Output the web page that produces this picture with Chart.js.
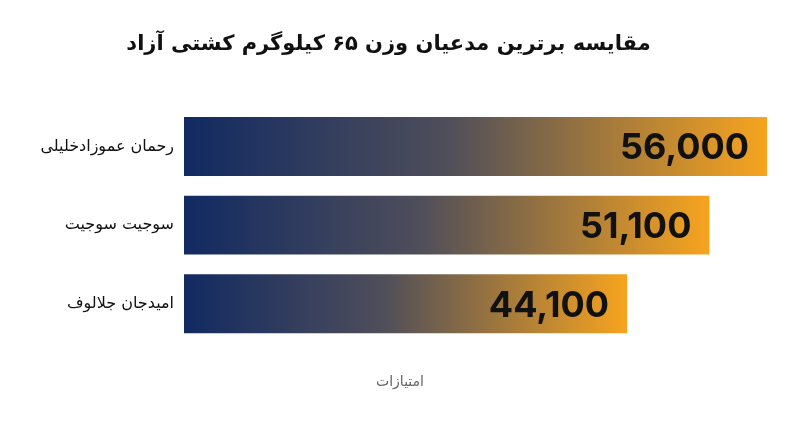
<!DOCTYPE html>
<html><head><meta charset="utf-8">
<script src="https://cdn.jsdelivr.net/npm/chart.js@4/dist/chart.umd.min.js"></script>
<style>html,body{margin:0;padding:0;background:#fff}#w{width:800px;height:447px}</style>
</head><body><div id="w"><canvas id="c"></canvas></div>
<script>
const categories = ["رحمان عموزادخلیلی", "سوجیت سوجیت", "امیدجان جلالوف"];
const values = [56000, 51100, 44100];
const valueLabels = ["56,000", "51,100", "44,100"];
const xTitle = 'امتیازات';
const FA = "'DejaVu Sans', sans-serif";

const valuePlugin = {
  id: 'vals',
  afterDatasetsDraw(chart) {
    const ctx = chart.ctx;
    const meta = chart.getDatasetMeta(0);
    ctx.save();
    ctx.font = "bold 36px Inter, 'Liberation Sans', sans-serif";
    ctx.fillStyle = "#111";
    ctx.textAlign = "right";
    ctx.textBaseline = "middle";
    meta.data.forEach((bar, i) => {
      ctx.fillText(valueLabels[i], bar.x - 18, bar.y + 2);
    });
    ctx.font = "14px " + FA;
    ctx.fillStyle = "#666";
    ctx.textAlign = "center";
    ctx.fillText(xTitle, chart.width / 2, chart.chartArea.bottom + 39);
    ctx.restore();
  }
};

new Chart(document.getElementById('c'), {
  type: 'bar',
  data: {
    labels: categories,
    datasets: [{
      data: values,
      categoryPercentage: 0.75,
      barPercentage: 1,
      backgroundColor(context) {
        const chart = context.chart;
        const area = chart.chartArea;
        if (!area) return '#f5a21f';
        const end = chart.scales.x.getPixelForValue(context.raw);
        const g = chart.ctx.createLinearGradient(area.left, 0, end, 0);
        g.addColorStop(0, '#112a62');
        g.addColorStop(0.45, '#4f4e5a');
        g.addColorStop(1, '#f7a41e');
        return g;
      }
    }]
  },
  options: {
    indexAxis: 'y',
    responsive: true,
    maintainAspectRatio: false,
    animation: false,
    layout: { padding: { left: 10, right: 33, top: 10, bottom: 96 } },
    plugins: {
      legend: { display: false },
      tooltip: { enabled: false },
      title: {
        display: true,
        text: 'مقایسه برترین مدعیان وزن ۶۵ کیلوگرم کشتی آزاد',
        color: '#111',
        font: { family: FA, size: 21, weight: 'bold' },
        padding: { top: 22, bottom: 50 }
      }
    },
    scales: {
      x: {
        min: 6400, max: 56000,
        grid: { display: false },
        border: { display: false },
        ticks: { display: false }
      },
      y: {
        afterFit(scale) { scale.width = 174; },
        grid: { display: false },
        border: { display: false },
        ticks: { color: '#111', font: { family: FA, size: 16 }, padding: 2 }
      }
    }
  },
  plugins: [valuePlugin]
});
</script></body></html>
